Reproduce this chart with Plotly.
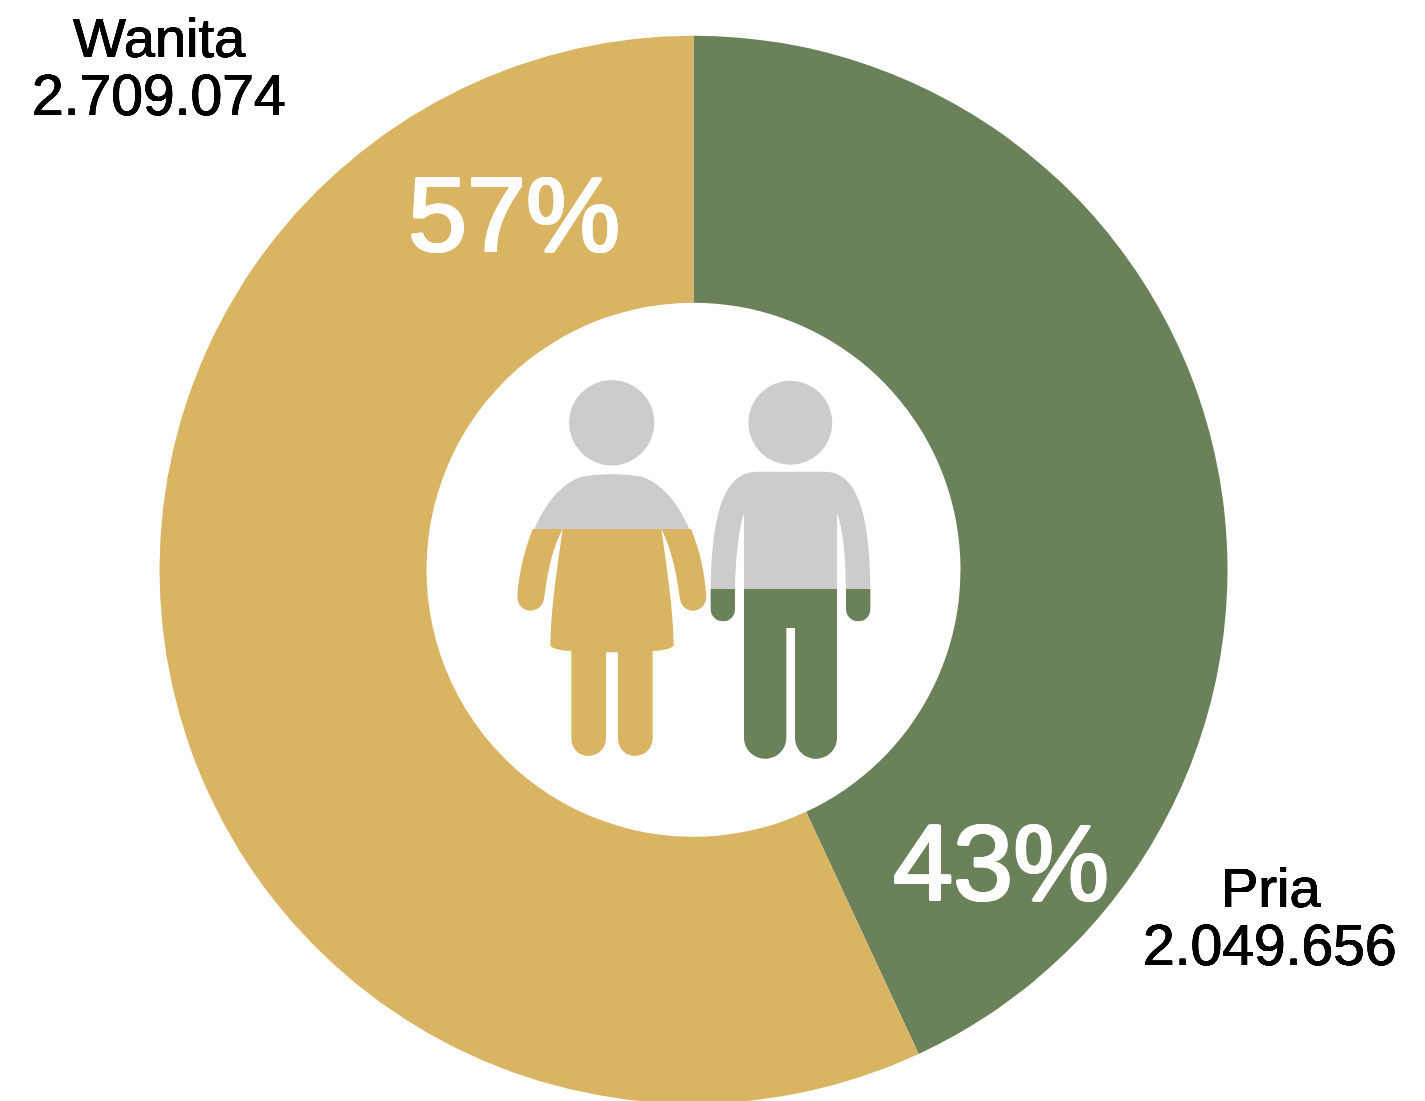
import re
import plotly.graph_objects as go

W, H = 1425, 1104

categories = ["Pria", "Wanita"]
values = [2049656, 2709074]
percent_labels = ["43%", "57%"]
value_labels = ["2.049.656", "2.709.074"]
colors = ["#6A815A", "#D9B563"]
GREY = "#CCCCCC"
FONT = "Liberation Sans"


def px(x, y):
    return x / W, 1 - y / H


def zoom_path(d):
    """Pictogram outline written in 3x crop units with origin (500, 360)."""
    out, nums = [], []
    for tok in re.findall(r"[MLCZ]|-?\d+\.?\d*", d):
        if tok in "MLCZ":
            out.append(tok)
        else:
            nums.append(float(tok))
            if len(nums) == 2:
                x, y = px(500 + nums[0] / 3, 360 + nums[1] / 3)
                out.append(f"{x:.5f},{y:.5f}")
                nums = []
    return " ".join(out)


woman_top = "M103,507 C140,420 190,370 240,352 C280,340 390,340 430,352 C480,370 530,420 568,507 Z"
woman_bottom = [
    "M98,507 L188,507 C160,560 145,620 133,712 C130,740 110,752 92,752 C70,752 52,735 52,710 C56,640 75,565 98,507 Z",
    "M188,507 L484,507 C500,620 520,750 521,855 C521,865 490,872 458,873 L458,1135 C458,1165 435,1188 405,1188 "
    "C375,1188 354,1165 354,1135 L354,877 L318,877 L318,1135 C318,1165 295,1188 265,1188 C235,1188 214,1165 214,1135 "
    "L214,873 C180,872 151,865 151,855 C152,750 172,620 188,507 Z",
    "M573,507 L484,507 C510,560 527,620 539,712 C542,740 560,752 578,752 C600,752 619,735 619,710 C615,640 598,565 573,507 Z",
]
man_top = ("M632,687 C634,500 660,335 770,335 L975,335 C1085,335 1109,500 1111,687 L1038,687 "
           "C1037,600 1030,510 1011,460 L1011,687 L732,687 L732,460 C715,510 707,600 705,687 Z")
man_bottom = [
    "M632,687 L705,687 L705,747 C705,768 690,784 669,784 C648,784 632,768 632,747 Z",
    "M1038,687 L1111,687 L1111,747 C1111,768 1096,784 1075,784 C1054,784 1038,768 1038,747 Z",
    "M732,687 L1011,687 L1011,1133 C1011,1168 983,1196 948,1196 C913,1196 885,1168 885,1133 L885,804 L859,804 "
    "L859,1133 C859,1168 831,1196 796,1196 C761,1196 732,1168 732,1133 Z",
]

fig = go.Figure(go.Pie(
    labels=categories,
    values=values,
    hole=0.5,
    sort=False,
    direction="clockwise",
    rotation=0,
    textinfo="none",
    showlegend=False,
    marker=dict(colors=colors, line=dict(width=0)),
    domain=dict(x=[159.5 / W, 1227.5 / W], y=[0, 1 - 35.5 / H]),
))

shapes = []


def add_path(d, color):
    shapes.append(dict(type="path", xref="paper", yref="paper", path=zoom_path(d),
                       fillcolor=color, line=dict(width=0), layer="above"))


def add_head(cx, cy, r):
    x0, y0 = px(cx - r, cy - r)
    x1, y1 = px(cx + r, cy + r)
    shapes.append(dict(type="circle", xref="paper", yref="paper", x0=x0, x1=x1, y0=y0, y1=y1,
                       fillcolor=GREY, line=dict(width=0), layer="above"))


add_head(611.7, 422.7, 42.7)
add_head(790.3, 422.7, 42)
add_path(woman_top, GREY)
add_path(man_top, GREY)
for d in woman_bottom:
    add_path(d, colors[1])
for d in man_bottom:
    add_path(d, colors[0])


def label(text, cx, cy, size, color, heavy):
    x, y = px(cx, cy)
    d = round(heavy * 0.7, 2)
    offsets = [(heavy, 0), (-heavy, 0), (0, heavy), (0, -heavy), (d, d), (-d, d), (d, -d), (-d, -d)]
    shadow = ", ".join(f"{a}px {b}px 0.6px {color}" for a, b in offsets)
    return dict(text=text, x=x, y=y, xref="paper", yref="paper", xanchor="center", yanchor="middle",
                showarrow=False, font=dict(family=FONT, size=size, color=color, shadow=shadow))


annotations = [
    label(categories[1], 159, 37.5, 56, "#000000", 0.4),
    label(value_labels[1], 159, 95.5, 57, "#000000", 0.4),
    label(categories[0], 1271, 887, 56, "#000000", 0.4),
    label(value_labels[0], 1270, 944.5, 57, "#000000", 0.4),
    label(percent_labels[1], 514, 214, 106, "#FFFFFF", 1.4),
    label(percent_labels[0], 1001, 862, 108, "#FFFFFF", 1.4),
]

fig.update_layout(
    width=W, height=H,
    margin=dict(l=0, r=0, t=0, b=0),
    paper_bgcolor="#FFFFFF",
    shapes=shapes,
    annotations=annotations,
)

fig.write_html(
    "out.html",
    config={"displayModeBar": False},
    post_script="document.body.style.margin='0';document.documentElement.style.overflow='hidden';",
)
